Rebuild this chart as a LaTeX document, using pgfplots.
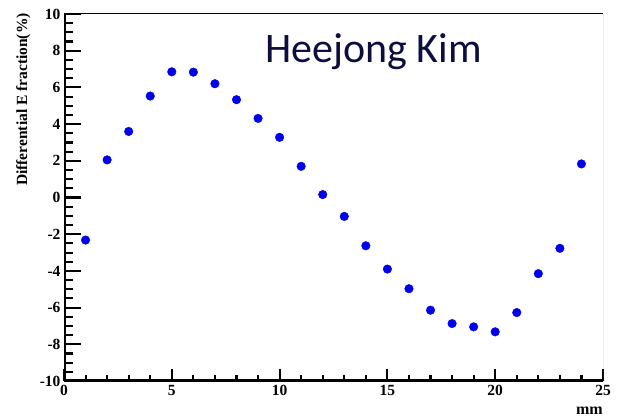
\documentclass[border=0pt]{standalone}
\usepackage{fontspec}
\setmainfont{Liberation Serif}
\newfontfamily\carlito{Carlito}
\usepackage{pgfplots}
\pgfplotsset{compat=1.18}
\definecolor{navy}{RGB}{12,14,64}
\definecolor{rootblue}{RGB}{0,0,235}
\begin{document}
\begin{tikzpicture}[x=1pt,y=1pt]
\path[use as bounding box] (0,0) rectangle (617,418);
\pgfplotsset{
  common/.style={
    at={(64pt,37pt)}, anchor=south west,
    scale only axis, width=539pt, height=367pt,
    xmin=0, xmax=25, ymin=-10, ymax=10,
    axis line style={draw=none},
    tick align=inside, tick pos=left,
    /pgf/number format/assume math mode=true,
    ticklabel style={font=\bfseries\fontsize{15.5}{15.5}\selectfont},
    tick style={black, line width=2.1pt},
  }
}
% x ticks + data
\begin{axis}[common,
  xtick={0,5,10,15,20,25}, minor x tick num=4,
  ytick=\empty,
  major tick length=12pt, minor tick length=6pt,
  xticklabel style={yshift=-1pt},
]
\addplot[only marks, mark=*, mark size=4.3pt, draw=rootblue, fill=rootblue]
coordinates {
(1,-2.32)(2,2.05)(3,3.6)(4,5.53)(5,6.85)(6,6.83)(7,6.2)(8,5.33)
(9,4.31)(10,3.28)(11,1.7)(12,0.16)(13,-1.03)(14,-2.63)(15,-3.9)
(16,-4.97)(17,-6.14)(18,-6.87)(19,-7.05)(20,-7.32)(21,-6.27)
(22,-4.15)(23,-2.77)(24,1.83)
};
\draw[black, line width=1pt] (rel axis cs:0,1) -- (rel axis cs:1,1);
\draw[black!60, line width=1pt] (rel axis cs:1,0) -- (rel axis cs:1,1);
\end{axis}
% y ticks
\begin{axis}[common,
  xtick=\empty,
  ytick={-10,-8,-6,-4,-2,0,2,4,6,8,10}, minor y tick num=3,
  major tick length=16.5pt, minor tick length=8.5pt,
]
\draw[black, line width=3.5pt, line cap=rect] (rel axis cs:0,1) -- (rel axis cs:0,0) -- (rel axis cs:1,0);
\end{axis}
\node[rotate=90, anchor=base east, inner sep=0pt, font=\bfseries\fontsize{15.5}{15.5}\selectfont] at (27,405) {Differential E fraction(\%)};
\node[anchor=base east, inner sep=0pt, font=\bfseries\fontsize{16}{16}\selectfont] at (603,4) {mm};
\node[anchor=base west, inner sep=0pt, text=navy, font=\carlito\fontsize{42}{42}\selectfont] at (265,355) {Heejong Kim};
\end{tikzpicture}
\end{document}
